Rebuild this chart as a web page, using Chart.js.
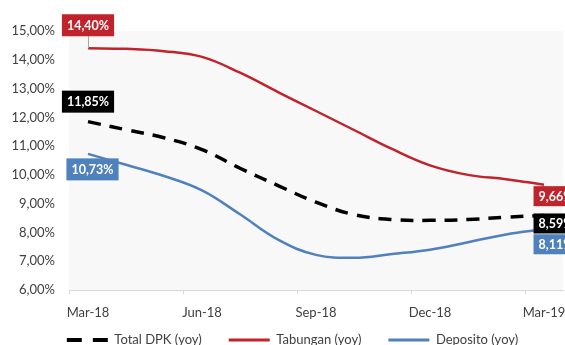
<!DOCTYPE html>
<html><head><meta charset="utf-8">
<script src="https://cdn.jsdelivr.net/npm/chart.js@4/dist/chart.umd.min.js"></script>
<style>
html,body{margin:0;padding:0;background:#fff;overflow:hidden;width:565px;height:345px}
#wrap{position:absolute;left:0;top:0;width:600px;height:380px}
</style>
</head><body><div id="wrap"><canvas id="c" width="600" height="380"></canvas></div>
<script>
// ---- data ----
const months = ['Mar-18','Apr-18','May-18','Jun-18','Jul-18','Aug-18','Sep-18','Oct-18','Nov-18','Dec-18','Jan-19','Feb-19','Mar-19'];
const shownTickLabels = ['Mar-18','Jun-18','Sep-18','Dec-18','Mar-19'];
const seriesNames = ['Total DPK (yoy)','Tabungan (yoy)','Deposito (yoy)'];
const totalDPK = [11.85, 11.57, 11.29, 10.88, 10.23, 9.63, 9.05, 8.62, 8.45, 8.42, 8.45, 8.53, 8.59];
const tabungan = [14.40, 14.38, 14.30, 14.10, 13.55, 12.88, 12.22, 11.56, 10.90, 10.33, 10.00, 9.85, 9.66];
const deposito = [10.73, 10.35, 9.96, 9.46, 8.63, 7.75, 7.22, 7.12, 7.25, 7.40, 7.66, 7.93, 8.11];
const yMin = 6, yMax = 15, yStep = 1;

// ---- styles ----
const colors = ['#000000', '#C0232B', '#4F81BD'];
const fmt = v => v.toFixed(2).replace('.', ',') + '%';
const labelOffsets = [
  {first: {dx: 0, dy: -20, h: 22}, last: {dx: 12, dy: 8, h: 20}},
  {first: {dx: 0, dy: -23, h: 22, leader: true}, last: {dx: 12, dy: 11.5, h: 20}},
  {first: {dx: 4.5, dy: 15.5, h: 22}, last: {dx: 12, dy: 15, h: 20}}
];
const legendShiftX = 11, legendShiftY = -23.5;

Chart.defaults.font.family = 'Lato';
Chart.defaults.font.size = 13;
Chart.defaults.color = '#404040';

const bgPlugin = {
  id: 'plotBg',
  beforeDraw(chart) {
    const {ctx, chartArea: a} = chart;
    ctx.save();
    ctx.fillStyle = '#F8F8F8';
    ctx.fillRect(a.left, a.top, a.right - a.left, a.bottom - a.top);
    ctx.restore();
  }
};

const legendMove = {
  id: 'legendMove',
  afterLayout(chart) {
    const l = chart.legend;
    if (l) { l.left += legendShiftX; l.right += legendShiftX; l.top += legendShiftY; l.bottom += legendShiftY; }
  }
};

const endLabels = {
  id: 'endLabels',
  afterDatasetsDraw(chart) {
    const {ctx} = chart;
    ctx.save();
    ctx.font = 'bold 12.5px Lato';
    ctx.textAlign = 'center';
    ctx.textBaseline = 'middle';
    chart.data.datasets.forEach((ds, di) => {
      const meta = chart.getDatasetMeta(di);
      const idxs = [0, ds.data.length - 1];
      idxs.forEach((idx, k) => {
        const pt = meta.data[idx];
        const o = k === 0 ? labelOffsets[di].first : labelOffsets[di].last;
        const txt = fmt(ds.data[idx]);
        const w = ctx.measureText(txt).width + 10;
        const h = o.h;
        const cx = pt.x + o.dx, cy = pt.y + o.dy;
        if (o.leader) {
          ctx.strokeStyle = '#A6A6A6';
          ctx.lineWidth = 1;
          ctx.beginPath();
          ctx.moveTo(Math.round(pt.x) + 0.5, cy + h / 2);
          ctx.lineTo(Math.round(pt.x) + 0.5, pt.y);
          ctx.stroke();
        }
        ctx.fillStyle = ds.borderColor;
        ctx.fillRect(cx - w / 2, cy - h / 2, w, h);
        ctx.fillStyle = '#FFFFFF';
        ctx.fillText(txt, cx, cy + 0.5);
      });
    });
    ctx.restore();
  }
};

new Chart(document.getElementById('c'), {
  type: 'line',
  data: {
    labels: months,
    datasets: [
      {label: seriesNames[0], data: totalDPK, borderColor: colors[0], backgroundColor: colors[0], borderWidth: 3.5, borderDash: [13, 9], pointRadius: 0, tension: 0.4, fill: false},
      {label: seriesNames[1], data: tabungan, borderColor: colors[1], backgroundColor: colors[1], borderWidth: 2.5, pointRadius: 0, tension: 0.4, fill: false},
      {label: seriesNames[2], data: deposito, borderColor: colors[2], backgroundColor: colors[2], borderWidth: 2.5, pointRadius: 0, tension: 0.4, fill: false}
    ]
  },
  options: {
    responsive: false,
    animation: false,
    devicePixelRatio: 1,
    layout: {padding: {top: 31, right: 37, bottom: 0, left: 0}},
    plugins: {
      legend: {
        position: 'bottom',
        labels: {
          usePointStyle: true,
          pointStyleWidth: 41,
          boxHeight: 13,
          padding: 27,
          color: '#404040',
          font: {size: 13},
          generateLabels(chart) {
            return chart.data.datasets.map((ds, i) => ({
              text: ds.label,
              fillStyle: ds.borderColor,
              strokeStyle: ds.borderColor,
              lineWidth: ds.borderWidth + 0.5,
              lineDash: i === 0 ? [15, 11] : [],
              pointStyle: 'line',
              datasetIndex: i,
              hidden: false,
              fontColor: '#404040'
            }));
          }
        }
      },
      tooltip: {enabled: false}
    },
    scales: {
      x: {
        type: 'category',
        offset: true,
        grid: {
          offset: true,
          drawOnChartArea: false,
          drawTicks: true,
          tickLength: 4,
          color: c => (c.index % 3 === 0 ? '#D9D9D9' : 'rgba(0,0,0,0)')
        },
        border: {display: true, color: '#D9D9D9', width: 1},
        ticks: {
          autoSkip: false,
          maxRotation: 0,
          padding: 11,
          color: '#404040',
          font: {size: 13},
          callback(v, i) { const l = this.getLabelForValue(v); return shownTickLabels.includes(l) ? l : ''; }
        },
        afterFit(s) { s.height = 40; }
      },
      y: {
        min: yMin, max: yMax,
        grid: {display: false, drawTicks: false},
        border: {display: false},
        ticks: {stepSize: yStep, padding: 14, color: '#404040', font: {size: 13}, callback: v => fmt(v)},
        afterFit(s) { s.width = 69; }
      }
    }
  },
  plugins: [bgPlugin, legendMove, endLabels]
});
</script></body></html>
